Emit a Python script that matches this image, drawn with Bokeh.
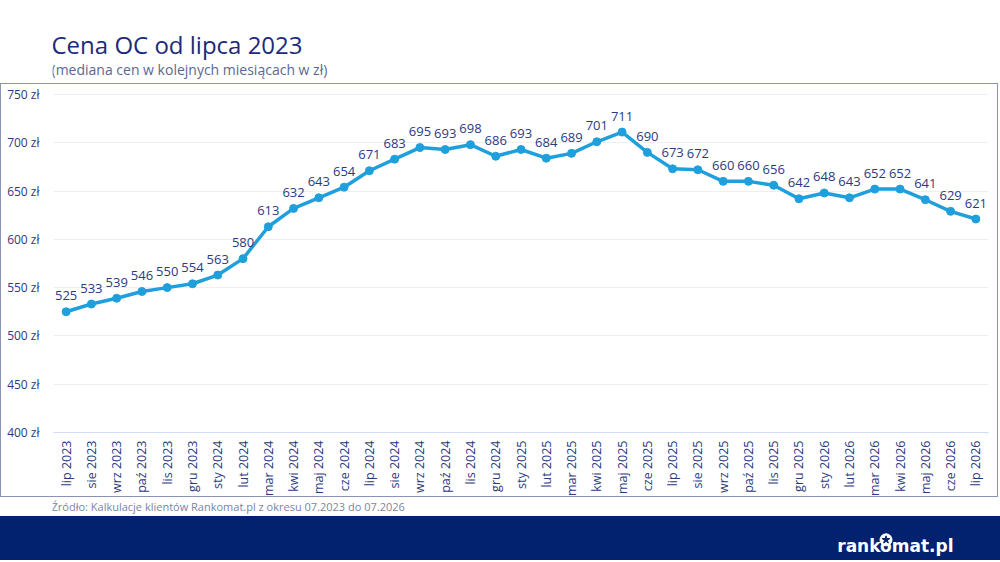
import math
from bokeh.core.properties import value
from bokeh.embed import file_html
from bokeh.layouts import column
from bokeh.models import ColumnDataSource, FactorRange, FixedTicker, Range1d
from bokeh.plotting import figure
from bokeh.resources import INLINE

miesiace = [
    "lip 2023", "sie 2023", "wrz 2023", "paź 2023", "lis 2023", "gru 2023",
    "sty 2024", "lut 2024", "mar 2024", "kwi 2024", "maj 2024", "cze 2024",
    "lip 2024", "sie 2024", "wrz 2024", "paź 2024", "lis 2024", "gru 2024",
    "sty 2025", "lut 2025", "mar 2025", "kwi 2025", "maj 2025", "cze 2025",
    "lip 2025", "sie 2025", "wrz 2025", "paź 2025", "lis 2025", "gru 2025",
    "sty 2026", "lut 2026", "mar 2026", "kwi 2026", "maj 2026", "cze 2026",
    "lip 2026",
]
ceny = [
    525, 533, 539, 546, 550, 554,
    563, 580, 613, 632, 643, 654,
    671, 683, 695, 693, 698, 686,
    693, 684, 689, 701, 711, 690,
    673, 672, 660, 660, 656, 642,
    648, 643, 652, 652, 641, 629,
    621,
]
ticki_y = [400, 450, 500, 550, 600, 650, 700, 750]
etykiety_y = ["400 zł", "450 zł", "500 zł", "550 zł", "600 zł", "650 zł", "700 zł", "750 zł"]

tytul = "Cena OC od lipca 2023"
podtytul = "(mediana cen w kolejnych miesiącach w zł)"
zrodlo = "Źródło: Kalkulacje klientów Rankomat.pl z okresu 07.2023 do 07.2026"
logo = "rankomat.pl"

FONT = "Open Sans"
GRANAT = "#1b2b7c"
TEKST = "#2c3a80"
NIEBIESKI = "#1fa0dd"
TLO_PASKA = "#02216f"

SZER = 1000
LEWY = 52   # od lewej krawedzi strony do obszaru wykresu
PRAWY = 11
RAMKA = SZER - LEWY - PRAWY


def pasek(h, tlo="white"):
    # figure bez osi; x liczone od lewej krawedzi obszaru wykresu, y w dol
    f = figure(width=SZER, height=h, x_range=Range1d(0, RAMKA), y_range=Range1d(h, 0),
               x_axis_type=None, y_axis_type=None, output_backend="svg", title=None,
               toolbar_location=None, min_border_left=LEWY, min_border_right=PRAWY,
               min_border_top=0, min_border_bottom=0, outline_line_color=None,
               background_fill_color=tlo, border_fill_color=tlo,
               styles={"background-color": tlo})
    return f


naglowek = pasek(83)
naglowek.text(x=[-1], y=[44], text=[tytul], text_font=value(FONT), text_font_size="24px",
              text_color=GRANAT, text_baseline="alphabetic")
naglowek.text(x=[-1], y=[69], text=[podtytul], text_font=value(FONT), text_font_size="14px",
              text_color="#5b6794", text_baseline="alphabetic")

src = ColumnDataSource(data=dict(miesiac=miesiace, cena=ceny, etykieta=[str(c) for c in ceny]))

# wykres w ramce 1px (css), dlatego szerokosc i marginesy mniejsze o 1
p = figure(width=SZER - 2, height=414, x_range=FactorRange(*miesiace), y_range=Range1d(400, 752),
           output_backend="svg", toolbar_location=None, title=None,
           min_border_left=LEWY - 1, min_border_right=PRAWY - 1, min_border_top=8,
           min_border_bottom=64, outline_line_color=None,
           styles={"border": "1px solid #8a92b6"})

p.line(x="miesiac", y="cena", source=src, line_width=3.5, color=NIEBIESKI)
p.scatter(x="miesiac", y="cena", source=src, size=8, color=NIEBIESKI)
p.text(x="miesiac", y="cena", text="etykieta", source=src, text_align="center",
       text_baseline="middle", y_offset=-16, text_font=value(FONT), text_font_size="13px",
       text_color=TEKST)

p.yaxis.ticker = FixedTicker(ticks=ticki_y)
p.yaxis.major_label_overrides = dict(zip(ticki_y, etykiety_y))
p.yaxis.axis_line_color = None
p.yaxis.major_label_standoff = 14
p.yaxis.major_label_text_font_size = "12px"
p.xaxis.axis_line_color = "#cfdcf5"
p.xaxis.major_label_orientation = math.pi / 2
p.xaxis.major_label_standoff = 8
p.xaxis.major_label_text_font_size = "12.5px"
for ax in (p.xaxis, p.yaxis):
    ax.major_tick_line_color = None
    ax.minor_tick_line_color = None
    ax.major_tick_out = 0
    ax.minor_tick_out = 0
    ax.major_label_text_font = FONT
    ax.major_label_text_color = TEKST
p.xgrid.grid_line_color = None
p.ygrid.grid_line_color = "#efefef"

stopka = pasek(19)
stopka.text(x=[-1], y=[9], text=[zrodlo], text_font=value(FONT), text_font_size="11px",
            text_color="#7b84a3", text_baseline="middle")

dol = pasek(44, TLO_PASKA)
dol.text(x=[901], y=[29], text=[logo], text_font=value("DejaVu Sans"), text_font_size="17px",
         text_font_style="bold", text_color="white", text_align="right",
         text_baseline="alphabetic")
# gwiazdka w literze "o" logo
dol.scatter(x=[833.5], y=[23.3], marker="circle", size=12, color="white")
dol.scatter(x=[833.5], y=[23.3], marker="star", size=8, color=TLO_PASKA)

uklad = column(naglowek, p, stopka, dol, spacing=0)
open("out.html", "w").write(file_html(uklad, INLINE))
